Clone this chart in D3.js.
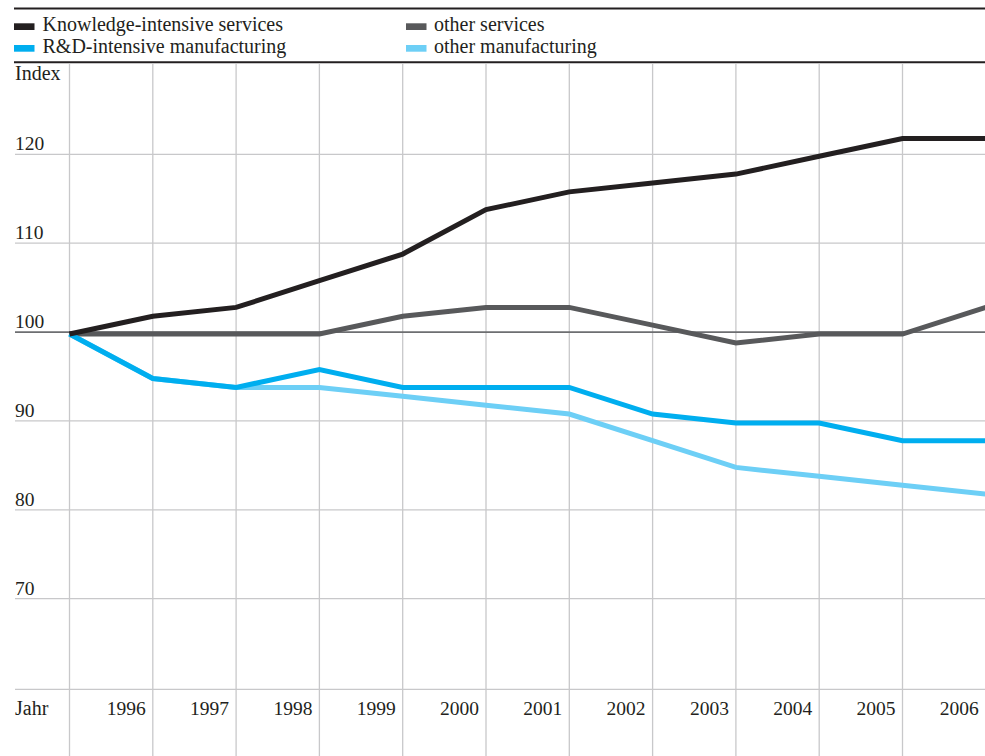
<!DOCTYPE html>
<html>
<head>
<meta charset="utf-8">
<script src="https://cdn.jsdelivr.net/npm/d3@7"></script>
<style>
html,body{margin:0;padding:0;background:#fff;}
svg{display:block;}
text{font-family:"Liberation Serif","Times New Roman",serif;fill:#231f20;}
</style>
</head>
<body>
<svg id="chart" width="985" height="756"></svg>
<script>
const years = [1995,1996,1997,1998,1999,2000,2001,2002,2003,2004,2005,2006];
const yearLabels = ["1996","1997","1998","1999","2000","2001","2002","2003","2004","2005","2006"];
const yTicks = [70,80,90,100,110,120];
const knowledgeServices = [100,102,103,106,109,114,116,117,118,120,122,122];
const otherServices     = [100,100,100,100,102,103,103,101,99,100,100,103];
const rdManufacturing   = [100,95,94,96,94,94,94,91,90,90,88,88];
const otherManufacturing= [100,95,94,94,93,92,91,88,85,84,83,82];
const seriesNames = ["Knowledge-intensive services","other services","R&D-intensive manufacturing","other manufacturing"];
const seriesColors = ["#231f20","#58595b","#00aeef","#6dcff6"];

const svg = d3.select("#chart");
const W = 985, H = 756;
const x = d3.scaleLinear().domain([1995,2006]).range([69.5,985.8]);
const y = d3.scaleLinear().domain([60,120]).range([687.6,154.3]);

// top rules
svg.append("line").attr("x1",14).attr("x2",W).attr("y1",8.5).attr("y2",8.5)
  .attr("stroke","#231f20").attr("stroke-width",2);
svg.append("line").attr("x1",14).attr("x2",W).attr("y1",62.3).attr("y2",62.3)
  .attr("stroke","#231f20").attr("stroke-width",2);

// legend
const legendPos = [[14,23.3,42.5,31],[406,23.3,434,31],[14,45,42.5,53],[406,45,434,53]];
seriesNames.forEach((n,i)=>{
  const p = legendPos[i];
  svg.append("rect").attr("x",p[0]).attr("y",p[1]).attr("width",20.5).attr("height",6.7).attr("fill",seriesColors[i]);
  svg.append("text").attr("x",p[2]).attr("y",p[3]).attr("font-size",20).text(n);
});

// vertical grid
svg.append("g").selectAll("line").data(years).join("line")
  .attr("x1",d=>x(d)).attr("x2",d=>x(d)).attr("y1",63.3).attr("y2",H)
  .attr("stroke","#c8c8ca").attr("stroke-width",1.3);

// horizontal grid
svg.append("g").selectAll("line").data(yTicks).join("line")
  .attr("x1",15).attr("x2",W).attr("y1",d=>y(d)).attr("y2",d=>y(d))
  .attr("stroke",d=>d===100?"#6d6e71":"#c8c8ca").attr("stroke-width",d=>d===100?1.8:1.3);
// x axis line
svg.append("line").attr("x1",15).attr("x2",W).attr("y1",y(59.8)).attr("y2",y(59.8))
  .attr("stroke","#c8c8ca").attr("stroke-width",1.3);

// y labels
svg.append("g").selectAll("text").data(yTicks).join("text")
  .attr("x",15).attr("y",d=>y(d)-4).attr("font-size",19.5).text(d=>d);
svg.append("text").attr("x",15).attr("y",80).attr("font-size",20).text("Index");

// x labels
svg.append("g").selectAll("text").data(yearLabels).join("text")
  .attr("x",d=>Math.min(x(+d)-7,982)).attr("y",715).attr("text-anchor","end")
  .attr("font-size",19.5).text(d=>d);
svg.append("text").attr("x",15).attr("y",715).attr("font-size",20).text("Jahr");

// lines
const line = d3.line().x((d,i)=>x(years[i])).y(d=>y(d));
const g = svg.append("g").attr("transform","translate(0,2)");
const order = [[otherManufacturing,3],[otherServices,1],[rdManufacturing,2],[knowledgeServices,0]];
order.forEach(([vals,ci])=>{
  g.append("path").datum(vals).attr("d",line).attr("fill","none")
    .attr("stroke",seriesColors[ci]).attr("stroke-width",5).attr("stroke-linejoin","miter");
});
</script>
</body>
</html>
